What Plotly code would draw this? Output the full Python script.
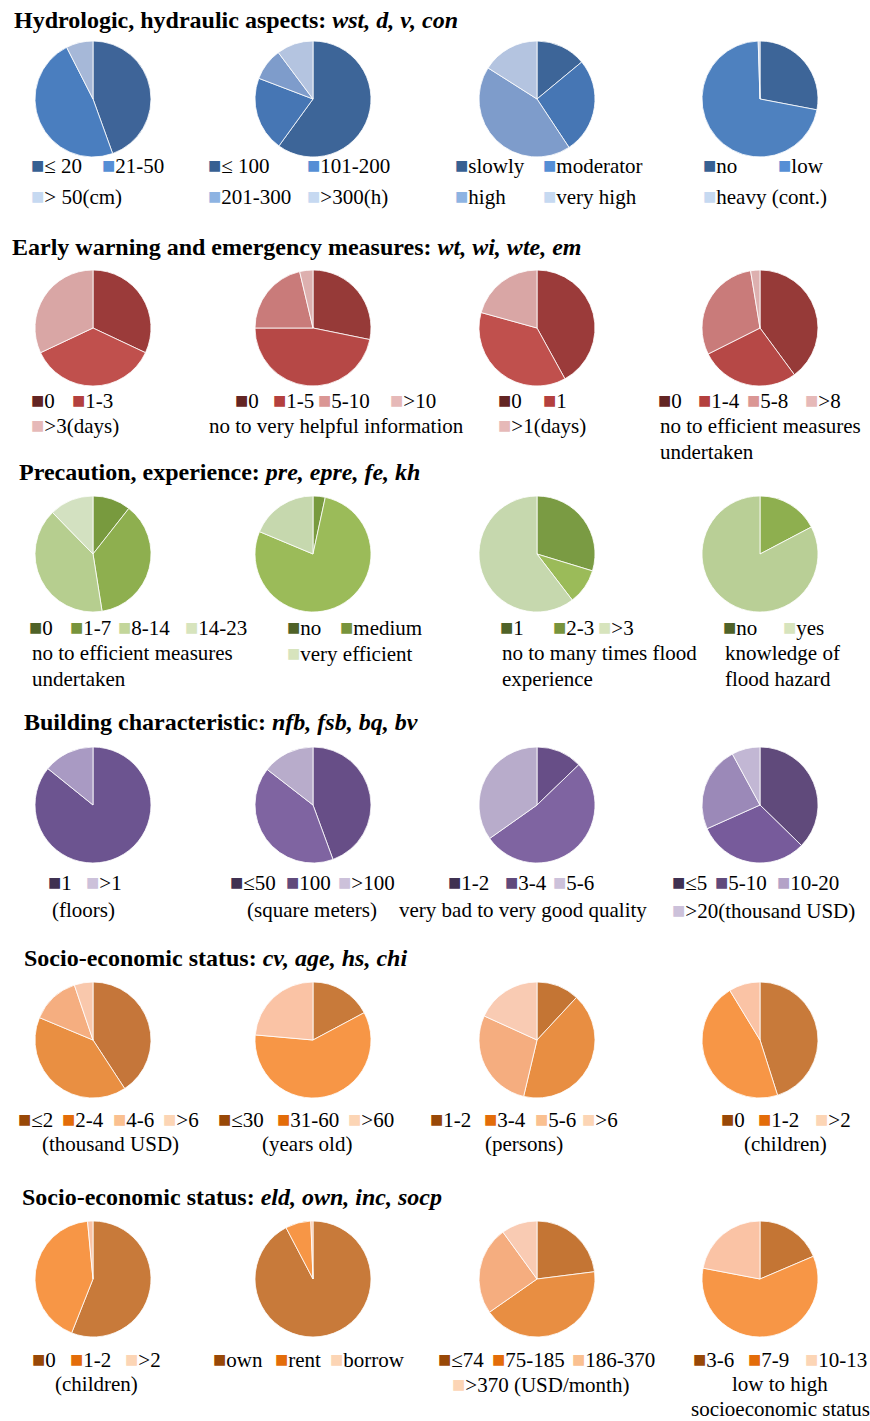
import plotly.graph_objects as go

W, H = 870, 1421
SERIF = "Liberation Serif, Times New Roman, serif"

# ---- data (share of respondents, %) ----
group_titles = [
    "Hydrologic, hydraulic aspects:",
    "Early warning and emergency measures:",
    "Precaution, experience:",
    "Building characteristic:",
    "Socio-economic status:",
    "Socio-economic status:",
]
group_vars = [
    ["wst", "d", "v", "con"],
    ["wt", "wi", "wte", "em"],
    ["pre", "epre", "fe", "kh"],
    ["nfb", "fsb", "bq", "bv"],
    ["cv", "age", "hs", "chi"],
    ["eld", "own", "inc", "socp"],
]

wst_labels = ["≤ 20", "21-50", "> 50(cm)"]
wst_values = [44.5, 48.0, 7.5]
d_labels = ["≤ 100", "101-200", "201-300", ">300(h)"]
d_values = [60.0, 20.8, 9.0, 10.2]
v_labels = ["slowly", "moderator", "high", "very high"]
v_values = [14.0, 26.7, 43.3, 16.0]
con_labels = ["no", "low", "heavy (cont.)"]
con_values = [28.0, 71.5, 0.5]

wt_labels = ["0", "1-3", ">3(days)"]
wt_values = [32.0, 36.0, 32.0]
wi_labels = ["0", "1-5", "5-10", ">10"]
wi_values = [28.2, 46.8, 21.3, 3.7]
wte_labels = ["0", "1", ">1(days)"]
wte_values = [42.0, 37.3, 20.7]
em_labels = ["0", "1-4", "5-8", ">8"]
em_values = [39.9, 27.7, 29.8, 2.6]

pre_labels = ["0", "1-7", "8-14", "14-23"]
pre_values = [10.6, 36.9, 40.2, 12.3]
epre_labels = ["no", "medium", "very efficient"]
epre_values = [3.4, 77.9, 18.7]
fe_labels = ["1", "2-3", ">3"]
fe_values = [29.7, 9.9, 60.4]
kh_labels = ["no", "yes"]
kh_values = [17.3, 82.7]

nfb_labels = ["1", ">1"]
nfb_values = [85.8, 14.2]
fsb_labels = ["≤50", "100", ">100"]
fsb_values = [44.4, 41.1, 14.5]
bq_labels = ["1-2", "3-4", "5-6"]
bq_values = [12.8, 52.4, 34.8]
bv_labels = ["≤5", "5-10", "10-20", ">20(thousand USD)"]
bv_values = [37.3, 31.0, 23.8, 7.9]

cv_labels = ["≤2", "2-4", "4-6", ">6"]
cv_values = [40.8, 40.5, 13.5, 5.2]
age_labels = ["≤30", "31-60", ">60"]
age_values = [17.2, 59.2, 23.6]
hs_labels = ["1-2", "3-4", "5-6", ">6"]
hs_values = [11.9, 41.8, 28.1, 18.2]
chi_labels = ["0", "1-2", ">2"]
chi_values = [45.1, 46.2, 8.7]

eld_labels = ["0", "1-2", ">2"]
eld_values = [56.0, 42.5, 1.5]
own_labels = ["own", "rent", "borrow"]
own_values = [92.3, 7.1, 0.6]
inc_labels = ["≤74", "75-185", "186-370", ">370 (USD/month)"]
inc_values = [23.0, 42.3, 24.7, 10.0]
socp_labels = ["3-6", "7-9", "10-13"]
socp_values = [18.6, 59.4, 22.0]

# extra lines written under some legends
notes = {
    "wi": ["no to very helpful information"],
    "em": ["no to efficient measures", "undertaken"],
    "pre": ["no to efficient measures", "undertaken"],
    "fe": ["no to many times flood", "experience"],
    "kh": ["knowledge of", "flood hazard"],
    "nfb": ["(floors)"],
    "fsb": ["(square meters)"],
    "bq": ["very bad to very good quality"],
    "cv": ["(thousand USD)"],
    "age": ["(years old)"],
    "hs": ["(persons)"],
    "chi": ["(children)"],
    "eld": ["(children)"],
    "socp": ["low to high", "socioeconomic status"],
}

series = {
    "wst": (wst_labels, wst_values), "d": (d_labels, d_values),
    "v": (v_labels, v_values), "con": (con_labels, con_values),
    "wt": (wt_labels, wt_values), "wi": (wi_labels, wi_values),
    "wte": (wte_labels, wte_values), "em": (em_labels, em_values),
    "pre": (pre_labels, pre_values), "epre": (epre_labels, epre_values),
    "fe": (fe_labels, fe_values), "kh": (kh_labels, kh_values),
    "nfb": (nfb_labels, nfb_values), "fsb": (fsb_labels, fsb_values),
    "bq": (bq_labels, bq_values), "bv": (bv_labels, bv_values),
    "cv": (cv_labels, cv_values), "age": (age_labels, age_values),
    "hs": (hs_labels, hs_values), "chi": (chi_labels, chi_values),
    "eld": (eld_labels, eld_values), "own": (own_labels, own_values),
    "inc": (inc_labels, inc_values), "socp": (socp_labels, socp_values),
}

# ---- styling ----
slice_colors = {
    "wst": ["#3E6498", "#4A7EBF", "#A6B8D8"],
    "d": ["#3D6598", "#4676B4", "#7E9CCB", "#B4C4E0"],
    "v": ["#3D6598", "#4676B4", "#7E9CCB", "#B4C4E0"],
    "con": ["#3D6598", "#4E81BF", "#B9C9E3"],
    "wt": ["#9B3B3A", "#C0504D", "#D9A6A5"],
    "wi": ["#963A38", "#B64846", "#C97B7A", "#DDB0AF"],
    "wte": ["#9B3B3A", "#C0504D", "#D9A6A5"],
    "em": ["#963A38", "#B64846", "#C97B7A", "#DDB0AF"],
    "pre": ["#789A3E", "#8EAF4F", "#B6CE8F", "#D3E1C1"],
    "epre": ["#789A3E", "#9BBB59", "#C6D8AE"],
    "fe": ["#7A9B43", "#9BBB59", "#C6D8AE"],
    "kh": ["#8EAF4F", "#B9CF96"],
    "nfb": ["#6C5490", "#A99AC3"],
    "fsb": ["#674E87", "#7F64A1", "#B8ACCB"],
    "bq": ["#674E87", "#7F64A1", "#B8ACCB"],
    "bv": ["#604A7B", "#775B9B", "#9B89B8", "#C2B7D4"],
    "cv": ["#C5763A", "#E98F42", "#F5AE80", "#F9C8AC"],
    "age": ["#C87A3A", "#F79646", "#FAC3A5"],
    "hs": ["#C47534", "#E88E42", "#F5AD7F", "#F9CBB3"],
    "chi": ["#C87A3A", "#F79646", "#FAC3A5"],
    "eld": ["#C87A3A", "#F79646", "#FAC3A5"],
    "own": ["#C87A3A", "#F79646", "#FAC3A5"],
    "inc": ["#C47534", "#E88E42", "#F5AD7F", "#F9CBB3"],
    "socp": ["#C47534", "#F79646", "#FAC3A5"],
}
# legend swatches use the office palette, like the original
legend_palette = [
    ["#376092", "#558ED5", "#8DB3E2", "#C6D9F1"],
    ["#632523", "#B3403E", "#DA9694", "#E6B9B8"],
    ["#4F6228", "#77933C", "#C3D69B", "#D7E4BD"],
    ["#3F3151", "#604A7B", "#B3A2C7", "#CCC1DA"],
    ["#984807", "#E36C09", "#FAC090", "#FCD5B5"],
    ["#984807", "#E36C09", "#FAC090", "#FCD5B5"],
]
swatch_pick = {2: [0, 3], 3: [0, 1, 3], 4: [0, 1, 2, 3]}

# layout in pixels
col_cx = [93, 313, 537, 760]
row_cy = [99, 328, 554, 805, 1040, 1279]
title_x = [12, 10, 17, 22, 22, 20]
title_y = [20, 247, 472, 722, 958, 1197]
line_y0 = [166, 400, 627, 883, 1119, 1359]
line_step = [31, 26, 26, 27, 25, 25]
D = 116

legend_pos = {
    "wst": [[31, 102], [31]], "d": [[208, 307], [208, 307]],
    "v": [[455, 543], [455, 543]], "con": [[703, 778], [703]],
    "wt": [[31, 72], [31]], "wi": [[235, 273, 318, 390]],
    "wte": [[498, 543], [498]], "em": [[658, 698, 747, 805]],
    "pre": [[29, 70, 118, 185]], "epre": [[287, 340], [287]],
    "fe": [[500, 553, 598]], "kh": [[723, 783]],
    "nfb": [[48, 86]], "fsb": [[230, 286, 338]],
    "bq": [[448, 505, 553]], "bv": [[672, 715, 777], [672]],
    "cv": [[18, 62, 113, 163]], "age": [[218, 277, 348]],
    "hs": [[430, 484, 535, 582]], "chi": [[721, 758, 815]],
    "eld": [[32, 70, 125]], "own": [[213, 275, 330]],
    "inc": [[438, 492, 572], [452]], "socp": [[693, 748, 805]],
}
note_x = {
    "wi": 207, "em": 658, "pre": 30, "fe": 500, "kh": 723, "nfb": 50,
    "fsb": 245, "bq": 397, "cv": 40, "age": 260, "hs": 483, "chi": 742,
    "eld": 53, "socp": 780,
}

fig = go.Figure()


def put_text(x, y, text, size=21, anchor="left"):
    fig.add_annotation(
        x=x / W, y=1 - y / H, xref="paper", yref="paper",
        text=text, showarrow=False, xanchor=anchor, yanchor="middle",
        font=dict(family=SERIF, size=size, color="black"),
    )


for r, keys in enumerate(group_vars):
    put_text(title_x[r], title_y[r],
             "<b>{} <i>{}</i></b>".format(group_titles[r], ", ".join(keys)),
             size=24)
    for c, key in enumerate(keys):
        labels, values = series[key]
        cx, cy = col_cx[c], row_cy[r]
        fig.add_trace(go.Pie(
            labels=labels, values=values,
            sort=False, direction="clockwise", rotation=0,
            marker=dict(colors=slice_colors[key],
                        line=dict(color="white", width=0.8)),
            textinfo="none", hoverinfo="label+value",
            showlegend=False,
            domain=dict(x=[(cx - D / 2) / W, (cx + D / 2) / W],
                        y=[1 - (cy + D / 2) / H, 1 - (cy - D / 2) / H]),
        ))

        # legend rows: colour square + label
        sw = [legend_palette[r][i] for i in swatch_pick[len(labels)]]
        item = 0
        rows = legend_pos[key]
        for k, xs in enumerate(rows):
            y = line_y0[r] + k * line_step[r]
            for x in xs:
                put_text(x - 2, y,
                         "<span style='color:{};font-size:22px'>■</span>{}".format(
                             sw[item], labels[item]))
                item += 1

        # notes under the legend
        if key in notes:
            anchor = "center" if key == "socp" else "left"
            for k, line in enumerate(notes[key]):
                y = line_y0[r] + (len(rows) + k) * line_step[r]
                put_text(note_x[key], y, line, anchor=anchor)

fig.update_layout(
    width=W, height=H,
    margin=dict(l=0, r=0, t=0, b=0),
    paper_bgcolor="white", plot_bgcolor="white",
)

# the page body has a default 8px margin; drop it so the figure sits at 0,0
fig.write_html("out.html", config={"displayModeBar": False},
               post_script="document.body.style.margin='0';")
